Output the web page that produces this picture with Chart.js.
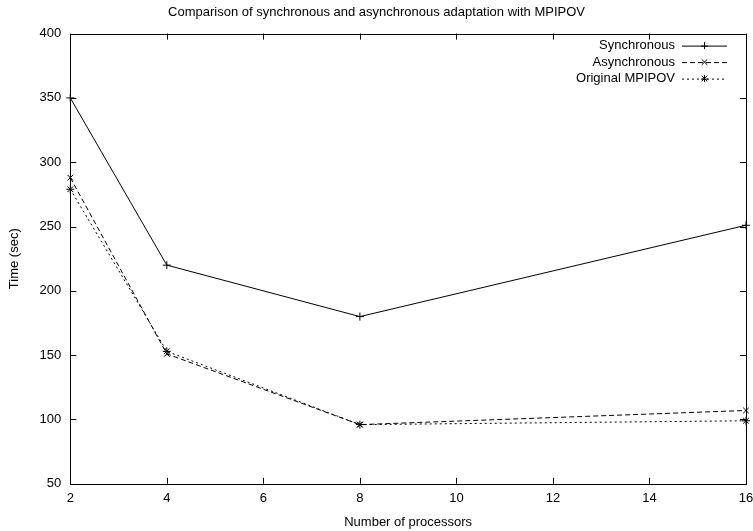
<!DOCTYPE html>
<html>
<head>
<meta charset="utf-8">
<script src="https://cdn.jsdelivr.net/npm/chart.js@4/dist/chart.umd.min.js"></script>
<style>
body { margin: 0; background: #fff; }
canvas { display: block; }
</style>
</head>
<body>
<canvas id="graphe" width="753" height="531"></canvas>
<script>
var processeurs = [2, 4, 8, 16];
var tempsSync = [350, 220, 180, 251];
var tempsAsync = [288, 151, 96, 107];
var tempsOrig = [279, 153, 96, 99];
var nomsSeries = ["Synchronous", "Asynchronous", "Original MPIPOV"];
var ticksX = [2, 4, 6, 8, 10, 12, 14, 16];
var ticksY = [50, 100, 150, 200, 250, 300, 350, 400];

var police = "'Liberation Sans', Arial, sans-serif";
var taille = 13;

function points(valeurs) {
    var res = [];
    for (var i = 0; i < processeurs.length; i++) {
        res.push({x: processeurs[i], y: valeurs[i]});
    }
    return res;
}

// ticks a l'interieur + legende facon gnuplot
var gnuplotStyle = {
    id: 'gnuplotStyle',
    afterDraw: function (chart) {
        var ctx = chart.ctx;
        var a = chart.chartArea;
        var sx = chart.scales.x, sy = chart.scales.y;
        ctx.save();
        ctx.strokeStyle = "#000";
        ctx.lineWidth = 1;
        ctx.setLineDash([]);
        ctx.beginPath();
        ticksX.forEach(function (v) {
            var px = Math.round(sx.getPixelForValue(v)) + 0.5;
            ctx.moveTo(px, a.bottom); ctx.lineTo(px, a.bottom - 6);
            ctx.moveTo(px, a.top); ctx.lineTo(px, a.top + 6);
        });
        ticksY.forEach(function (v) {
            var py = Math.round(sy.getPixelForValue(v)) + 0.5;
            ctx.moveTo(a.left, py); ctx.lineTo(a.left + 6, py);
            ctx.moveTo(a.right, py); ctx.lineTo(a.right - 6, py);
        });
        ctx.stroke();
        ctx.strokeRect(Math.round(a.left) + 0.5, Math.round(a.top) + 0.5,
            Math.round(a.right - a.left), Math.round(a.bottom - a.top));

        // legende
        ctx.font = taille + "px " + police;
        ctx.fillStyle = "#000";
        ctx.textAlign = "right";
        ctx.textBaseline = "middle";
        var xt = a.right - 71, x0 = a.right - 64, x1 = a.right - 19;
        chart.data.datasets.forEach(function (ds, i) {
            var y = a.top + 12 + i * 16.5;
            ctx.fillText(ds.label, xt, y);
            ctx.beginPath();
            ctx.setLineDash(ds.borderDash || []);
            ctx.moveTo(x0, y + 0.5); ctx.lineTo(x1, y + 0.5);
            ctx.stroke();
            ctx.setLineDash([]);
            var xm = (x0 + x1) / 2, r = 3.5;
            ctx.beginPath();
            if (ds.pointStyle === 'cross' || ds.pointStyle === 'star') {
                ctx.moveTo(xm - r, y + 0.5); ctx.lineTo(xm + r, y + 0.5);
                ctx.moveTo(xm, y - r); ctx.lineTo(xm, y + r);
            }
            if (ds.pointStyle === 'crossRot' || ds.pointStyle === 'star') {
                ctx.moveTo(xm - r * 0.8, y - r * 0.8); ctx.lineTo(xm + r * 0.8, y + r * 0.8);
                ctx.moveTo(xm - r * 0.8, y + r * 0.8); ctx.lineTo(xm + r * 0.8, y - r * 0.8);
            }
            ctx.stroke();
        });
        ctx.restore();
    }
};

function serie(label, valeurs, dash, style) {
    return {
        label: label,
        data: points(valeurs),
        borderColor: "#000",
        backgroundColor: "#000",
        borderWidth: 1,
        borderDash: dash,
        pointStyle: style,
        pointRadius: 4,
        pointBorderWidth: 1,
        pointBorderColor: "#000",
        fill: false,
        tension: 0,
        clip: 6
    };
}

var ctx = document.getElementById("graphe");
var monGraphe = new Chart(ctx, {
    type: 'line',
    data: {
        datasets: [
            serie(nomsSeries[0], tempsSync, [], 'cross'),
            serie(nomsSeries[1], tempsAsync, [5, 3], 'crossRot'),
            serie(nomsSeries[2], tempsOrig, [2, 3], 'star')
        ]
    },
    options: {
        responsive: false,
        animation: false,
        layout: {autoPadding: false, padding: {left: 7, right: 7, top: 5, bottom: 1}},
        plugins: {
            legend: {display: false},
            tooltip: {enabled: false},
            title: {
                display: true,
                text: "Comparison of synchronous and asynchronous adaptation with MPIPOV",
                color: "#000",
                font: {family: police, size: taille, weight: 'normal'},
                padding: {top: 0, bottom: 13}
            }
        },
        scales: {
            x: {
                type: 'linear',
                min: 2, max: 16,
                afterBuildTicks: function (s) { s.ticks = ticksX.map(function (v) { return {value: v}; }); },
                afterFit: function (s) { s.paddingRight = 0; },
                grid: {display: false, drawTicks: false},
                border: {display: false},
                ticks: {color: "#000", font: {family: police, size: taille}, padding: 7, maxRotation: 0},
                title: {display: true, text: "Number of processors", color: "#000",
                    font: {family: police, size: taille}, padding: {top: 1, bottom: 0}}
            },
            y: {
                min: 50, max: 400,
                afterBuildTicks: function (s) { s.ticks = ticksY.map(function (v) { return {value: v}; }); },
                grid: {display: false, drawTicks: false},
                border: {display: false},
                ticks: {color: "#000", font: {family: police, size: taille}, padding: 9},
                title: {display: true, text: "Time (sec)", color: "#000",
                    font: {family: police, size: taille}, padding: {top: 0, bottom: 8}}
            }
        }
    },
    plugins: [gnuplotStyle]
});
</script>
</body>
</html>
